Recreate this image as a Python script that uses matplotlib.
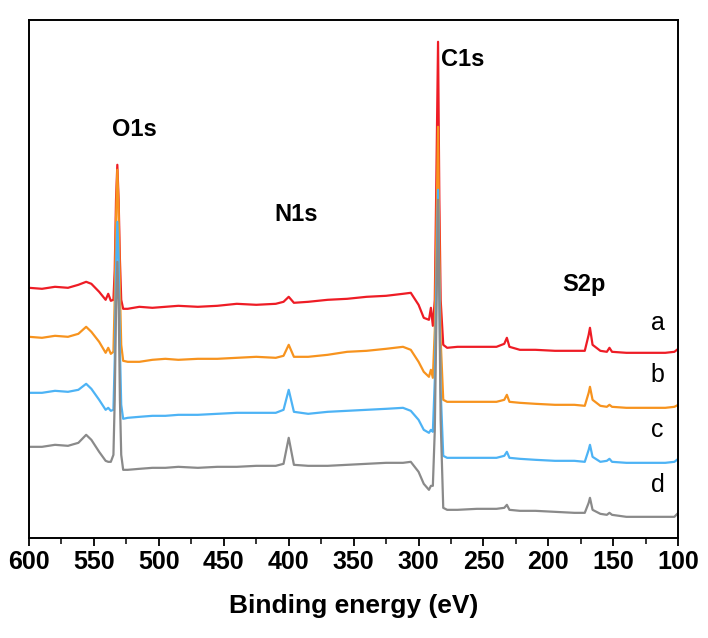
import matplotlib.pyplot as plt

plt.rcParams['font.family'] = ['Liberation Sans', 'DejaVu Sans']

###Binding energy grid (eV) and survey intensities (a.u., offset)
energy = [600, 590, 580, 570, 562, 556, 552, 546, 541, 539,
          537, 535, 534, 533, 532, 531, 530, 529, 527.5, 524,
          515, 505, 495, 485, 470, 455, 440, 425, 410, 404,
          400, 396, 385, 370, 355, 340, 325, 312, 306, 300,
          296, 292, 290.5, 289, 287.5, 286.5, 285, 284, 283, 281,
          278, 270, 255, 240, 234, 232, 230, 222, 210, 195,
          180, 172, 169, 168, 166, 160, 155, 153, 151, 140,
          125, 110, 103, 100]

spec_a = [250, 249, 251, 250, 253, 256, 254, 246, 238, 244,
          237, 238, 268, 338, 373, 338, 278, 238, 229, 229,
          231, 230, 231, 232, 231, 232, 234, 233, 234, 236,
          241, 235, 236, 238, 239, 241, 242, 244, 245, 233,
          220, 218, 230, 212, 238, 338, 496, 338, 238, 193,
          190, 191, 191, 191, 194, 200, 191, 188, 188, 187,
          187, 187, 203, 210, 193, 187, 186, 190, 186, 185,
          185, 185, 186, 189]

spec_b = [201, 200, 202, 201, 204, 211, 206, 196, 185, 190,
          184, 186, 238, 318, 368, 328, 248, 193, 177, 176,
          176, 178, 179, 178, 179, 179, 180, 181, 180, 182,
          193, 181, 181, 183, 186, 187, 189, 191, 188, 176,
          166, 161, 168, 160, 208, 288, 411, 288, 198, 138,
          136, 136, 136, 136, 138, 143, 136, 135, 134, 133,
          133, 132, 145, 151, 138, 132, 131, 133, 131, 130,
          130, 130, 131, 133]

spec_c = [145, 145, 147, 146, 148, 154, 149, 138, 128, 130,
          127, 128, 178, 268, 316, 278, 188, 133, 119, 120,
          121, 122, 122, 123, 123, 124, 125, 125, 125, 128,
          148, 126, 124, 126, 127, 128, 129, 130, 127, 118,
          108, 105, 108, 106, 158, 238, 348, 248, 148, 82,
          80, 80, 80, 80, 82, 86, 80, 79, 78, 77,
          77, 76, 88, 93, 81, 76, 77, 79, 76, 75,
          75, 75, 76, 79]

spec_d = [91, 91, 93, 92, 95, 103, 98, 86, 77, 76,
          76, 83, 138, 228, 276, 238, 138, 83, 68, 68,
          69, 70, 70, 71, 70, 71, 71, 72, 72, 74,
          100, 73, 72, 72, 73, 74, 75, 75, 76, 66,
          54, 48, 52, 52, 108, 198, 338, 238, 118, 30,
          28, 28, 29, 29, 30, 33, 28, 27, 27, 26,
          25, 25, 35, 40, 28, 24, 23, 25, 23, 21,
          21, 21, 21, 25]

sample_names = ['a', 'b', 'c', 'd']
colors = ['#ee1c25', '#f7931e', '#4db3f5', '#8a8a8a']

peak_labels = ['O1s', 'N1s', 'C1s', 'S2p']
peak_pos = [(519, 408), (394, 323), (266, 478), (173, 253)]
name_pos = [(116, 215), (116, 163), (116, 108), (116, 53)]

###Plot
fig = plt.figure(figsize=(7.08, 6.38), dpi=100)
ax = fig.add_axes([0.041, 0.157, 0.917, 0.812])

for spec, c in zip([spec_a, spec_b, spec_c, spec_d], colors):
    ax.plot(energy, spec, color=c, lw=1.6)

for lab, (x, y) in zip(peak_labels, peak_pos):
    ax.text(x, y, lab, fontsize=17, fontweight='bold', ha='center', va='center')
for lab, (x, y) in zip(sample_names, name_pos):
    ax.text(x, y, lab, fontsize=18, ha='center', va='center')

ax.set_xlim(600, 100)
ax.set_ylim(0, 518)
ax.set_xticks(range(600, 99, -50))
ax.set_xticks(range(575, 100, -50), minor=True)
ax.set_yticks([])
ax.tick_params(axis='x', which='major', direction='out', length=6, width=1.3,
               labelsize=18, pad=3)
ax.tick_params(axis='x', which='minor', direction='out', length=4, width=1.1)
for lbl in ax.get_xticklabels():
    lbl.set_fontweight('bold')
for s in ax.spines.values():
    s.set_linewidth(1.4)

ax.set_xlabel("Binding energy (eV)", fontsize=19, fontweight='bold', labelpad=14)

plt.savefig('out.png', dpi=100)
